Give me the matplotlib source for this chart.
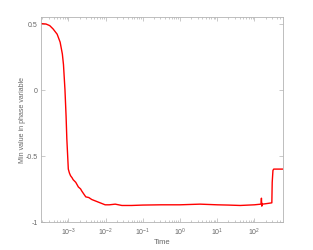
import numpy as np
import matplotlib
matplotlib.use("Agg")
import matplotlib.pyplot as plt
from matplotlib.ticker import LogLocator, NullFormatter, FixedLocator

plt.rcParams['axes.unicode_minus'] = False
plt.rcParams['font.family'] = 'Liberation Sans'
plt.rcParams['mathtext.fontset'] = 'custom'
plt.rcParams['mathtext.rm'] = 'Liberation Sans'

# log10(time) and min phase value
log_t = [-3.73, -3.6, -3.5, -3.41, -3.3, -3.22, -3.16, -3.13, -3.09, -3.06, -3.04,
         -3.0, -2.97, -2.94, -2.90, -2.87, -2.80, -2.76, -2.73, -2.67, -2.64, -2.58,
         -2.53, -2.45, -2.37, -2.28, -2.19, -2.10, -2.01, -1.90, -1.80, -1.74, -1.65,
         -1.56, -1.3, -1.0, -0.5, 0.0, 0.54, 1.0, 1.3, 1.62, 2.0, 2.18, 2.19, 2.20,
         2.21, 2.22, 2.3, 2.40, 2.47, 2.48, 2.50, 2.52, 2.77]
phase_min = [0.50, 0.497, 0.485, 0.46, 0.42, 0.36, 0.27, 0.19, 0.0, -0.2, -0.37,
             -0.6, -0.63, -0.65, -0.665, -0.68, -0.70, -0.72, -0.735, -0.75, -0.765, -0.79,
             -0.81, -0.815, -0.83, -0.84, -0.85, -0.86, -0.87, -0.87, -0.867, -0.865, -0.87,
             -0.875, -0.875, -0.872, -0.87, -0.87, -0.865, -0.87, -0.872, -0.875, -0.87, -0.865, -0.82, -0.88,
             -0.86, -0.865, -0.862, -0.858, -0.855, -0.70, -0.61, -0.60, -0.60]

t = np.power(10.0, log_t)

fig = plt.figure(figsize=(3.13, 2.51), dpi=100)
ax = fig.add_axes([41 / 313, 1 - 223 / 251, 242 / 313, 205 / 251])

ax.plot(t, phase_min, color='red', linewidth=1.0)

ax.set_xscale('log')
ax.set_xlim(10 ** -3.734, 10 ** 2.77)
ax.set_ylim(-1, 0.55)
ax.set_yticks([-1, -0.5, 0, 0.5])
ax.set_yticklabels(['-1', '-0.5', '0', '0.5'])
ax.xaxis.set_major_locator(FixedLocator([1e-3, 1e-2, 1e-1, 1e0, 1e1, 1e2]))
ax.xaxis.set_minor_locator(LogLocator(base=10, subs=np.arange(2, 10), numticks=20))
ax.xaxis.set_minor_formatter(NullFormatter())

gray = '0.4'
for s in ax.spines.values():
    s.set_color('0.7')
    s.set_linewidth(0.6)
ax.tick_params(which='both', direction='in', top=True, right=True, colors='0.7',
               labelcolor=gray, labelsize=5, width=0.5, pad=2.5)
ax.tick_params(which='major', length=3)
ax.tick_params(which='minor', length=1.5)

ax.set_xlabel('Time', fontsize=5.5, color=gray, labelpad=1)
ax.set_ylabel('Min value in phase variable', fontsize=5, color=gray)
ax.yaxis.set_label_coords(-0.064, 0.5)

fig.savefig('out.png', dpi=100)
